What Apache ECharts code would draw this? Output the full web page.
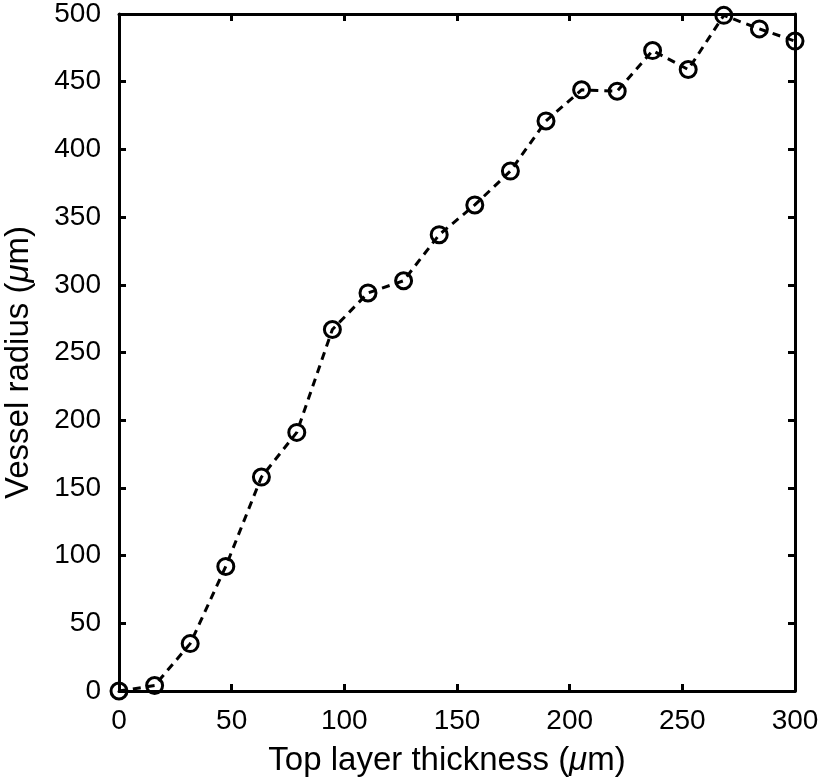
<!DOCTYPE html>
<html>
<head>
<meta charset="utf-8">
<script src="https://cdn.jsdelivr.net/npm/echarts@6/dist/echarts.min.js"></script>
<style>html,body{margin:0;padding:0;background:#fff;}#c{width:824px;height:784px;}</style>
</head>
<body>
<div id="c"></div>
<script>
const thickness = [0, 15.8, 31.6, 47.4, 63.2, 78.9, 94.7, 110.5, 126.3, 142.1, 157.9, 173.7, 189.5, 205.3, 221.1, 236.8, 252.6, 268.4, 284.2, 300];
const radius = [0, 4, 35, 92, 158, 191, 267, 294, 303, 337, 359, 384, 421, 444, 443, 473, 459, 499, 489, 480];
const xTitle = 'Top layer thickness ({i|μ}m)';
const yTitle = 'Vessel radius ({i|μ}m)';

const FONT = '"Liberation Sans", Arial, Helvetica, sans-serif';
const chart = echarts.init(document.getElementById('c'), null, {renderer: 'canvas'});
const data = thickness.map((x, i) => [x, radius[i]]);
const axisLine = {show: true, onZero: false, lineStyle: {color: '#000', width: 3}};
const axisTick = {show: true, inside: true, length: 7, lineStyle: {color: '#000', width: 3}};
const nameRich = {i: {fontStyle: 'italic', fontSize: 33, fontFamily: FONT, color: '#000'}};
chart.setOption({
  animation: false,
  backgroundColor: '#fff',
  grid: {left: 119, right: 29, top: 14, bottom: 93, containLabel: false, outerBoundsMode: 'none'},
  xAxis: [{
    type: 'value', min: 0, max: 300, interval: 50, position: 'bottom',
    axisLine, axisTick, splitLine: {show: false},
    axisLabel: {color: '#000', fontSize: 28, fontFamily: FONT, margin: 16},
    name: xTitle, nameLocation: 'middle', nameGap: 53,
    nameTextStyle: {color: '#000', fontSize: 33, fontFamily: FONT, rich: nameRich, padding: [0, 20, 0, 0]}
  }, {
    type: 'value', min: 0, max: 300, interval: 50, position: 'top',
    axisLine, axisTick, splitLine: {show: false}, axisLabel: {show: false}
  }],
  yAxis: [{
    type: 'value', min: 0, max: 500, interval: 50, position: 'left',
    axisLine, axisTick, splitLine: {show: false},
    axisLabel: {color: '#000', fontSize: 28, fontFamily: FONT, margin: 18},
    name: yTitle, nameLocation: 'middle', nameGap: 84,
    nameTextStyle: {color: '#000', fontSize: 33, fontFamily: FONT, rich: nameRich, padding: [0, 20, 0, 0]}
  }, {
    type: 'value', min: 0, max: 500, interval: 50, position: 'right',
    axisLine, axisTick, splitLine: {show: false}, axisLabel: {show: false}
  }],
  series: [{
    type: 'line', data, clip: false,
    symbol: 'circle', symbolSize: 16,
    lineStyle: {color: '#000', width: 3, type: [8, 6]},
    itemStyle: {color: 'rgba(0,0,0,0)', borderColor: '#000', borderWidth: 3}
  }]
});
</script>
</body>
</html>
